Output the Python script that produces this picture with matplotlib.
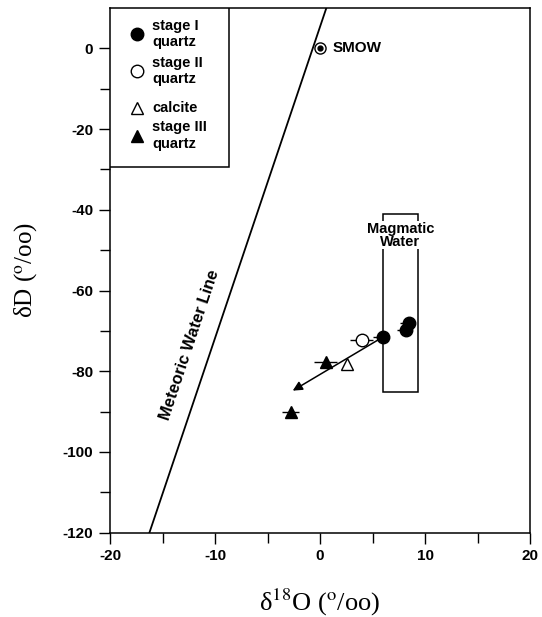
import matplotlib
matplotlib.use("Agg")
import matplotlib.pyplot as plt
from matplotlib.patches import Rectangle

plt.rcParams['font.family'] = ['Liberation Sans', 'DejaVu Sans']
plt.rcParams['mathtext.fontset'] = 'stix'
plt.rcParams['axes.unicode_minus'] = False

# data (delta18O, deltaD)
stage1_x = [6.0, 8.5, 8.2]
stage1_y = [-71.5, -68.0, -69.7]
stage1_xerr = [[1.0, 0.9, 0.9], [0.0, 0.0, 0.0]]
stage2_x = [3.95]
stage2_y = [-72.3]
stage2_xerr = [[1.1], [1.1]]
calcite_x = [2.6]
calcite_y = [-78.2]
stage3_x = [0.55, -2.8]
stage3_y = [-77.6, -90.0]
stage3_xerr = [[1.1, 0.8], [1.1, 0.8]]
smow = (0.0, 0.0)
mwl_x = [-16.25, 0.6]
mwl_y = [-120.0, 10.0]
arrow_start = (6.0, -71.5)
arrow_end = (-2.6, -84.8)
magmatic_box = (6.0, 9.3, -85.2, -41.0)

legend_labels = ['stage I\nquartz', 'stage II\nquartz', 'calcite', 'stage III\nquartz']
legend_markers = ['o', 'o', '^', '^']
legend_faces = ['black', 'white', 'white', 'black']

fig = plt.figure(figsize=(5.42, 6.17), dpi=100)
ax = fig.add_axes([0.203, 0.1366, 0.775, 0.8504])
ax.set_xlim(-20, 20)
ax.set_ylim(-120, 10)

# meteoric water line
ax.plot(mwl_x, mwl_y, color='black', lw=1.3, zorder=2)
ax.text(-12.4, -73.5, 'Meteoric Water Line', rotation=71.5, ha='center', va='center',
        fontsize=12, fontweight='bold', rotation_mode='anchor')

# magmatic water box
x0, x1, y0, y1 = magmatic_box
ax.add_patch(Rectangle((x0, y0), x1 - x0, y1 - y0, fill=False, ec='black', lw=1.1, zorder=2))
ax.text((x0 + x1) / 2, -46.3, 'Magmatic\nWater', ha='center', va='center', fontsize=10.5,
        fontweight='bold', linespacing=0.95,
        bbox=dict(facecolor='white', edgecolor='none', pad=0.3), zorder=3)

# arrow
ax.annotate('', xy=arrow_end, xytext=arrow_start,
            arrowprops=dict(arrowstyle='-|>', color='black', lw=1.1, mutation_scale=14,
                            shrinkA=0, shrinkB=0), zorder=3)

# data points
ax.errorbar(stage2_x, stage2_y, xerr=stage2_xerr, fmt='o', mfc='white', mec='black',
            ecolor='black', ms=9, elinewidth=1, capsize=0, zorder=4)
ax.errorbar(calcite_x, calcite_y, fmt='^', mfc='white', mec='black', ms=9, zorder=4)
ax.errorbar(stage3_x, stage3_y, xerr=stage3_xerr, fmt='^', mfc='black', mec='black',
            ecolor='black', ms=8, elinewidth=1, capsize=0, zorder=4)
ax.errorbar(stage1_x, stage1_y, xerr=stage1_xerr, fmt='o', mfc='black', mec='black',
            ecolor='black', ms=9, elinewidth=1, capsize=0, zorder=5)

# SMOW
ax.plot([smow[0]], [smow[1]], marker='o', ms=8, mfc='white', mec='black', mew=1, zorder=4)
ax.plot([smow[0]], [smow[1]], marker='o', ms=3.5, color='black', zorder=5)
ax.text(smow[0] + 1.2, smow[1], 'SMOW', ha='left', va='center', fontsize=11, fontweight='bold')

# legend (drawn in axes coordinates)
ax.add_patch(Rectangle((0, 0.697), 0.283, 0.303, transform=ax.transAxes, fill=True,
                       fc='white', ec='black', lw=1.1, zorder=6))
leg_y = [0.951, 0.880, 0.809, 0.757]
for yy, lab, mk, fc in zip(leg_y, legend_labels, legend_markers, legend_faces):
    ax.plot([0.064], [yy], transform=ax.transAxes, ls='none', marker=mk,
            ms=9 if (fc == 'white' or mk == 'o') else 8,
            mfc=fc, mec='black', zorder=7, clip_on=False)
    ax.text(0.100, yy, lab, transform=ax.transAxes, ha='left', va='center', fontsize=10.5,
            fontweight='bold', linespacing=1.2, zorder=7)

# ticks
ax.set_xticks([-20, -10, 0, 10, 20])
ax.set_xticks([-15, -5, 5, 15], minor=True)
ax.set_yticks(list(range(-120, 1, 20)))
ax.set_yticks(list(range(-110, 10, 20)), minor=True)
ax.tick_params(which='major', direction='out', length=8, width=1, labelsize=11, pad=4)
ax.tick_params(which='minor', direction='out', length=7, width=1)
for lbl in ax.get_xticklabels() + ax.get_yticklabels():
    lbl.set_fontweight('bold')
for s in ax.spines.values():
    s.set_linewidth(1.1)

ax.set_xlabel(r'δ$^{\rm 18}$O ($^{\rm o}$/oo)', fontsize=19, family='Liberation Serif', labelpad=17)
ax.set_ylabel(r'δD ($^{\rm o}$/oo)', fontsize=18, family='Liberation Serif', labelpad=17)

fig.savefig('out.png', dpi=100)
